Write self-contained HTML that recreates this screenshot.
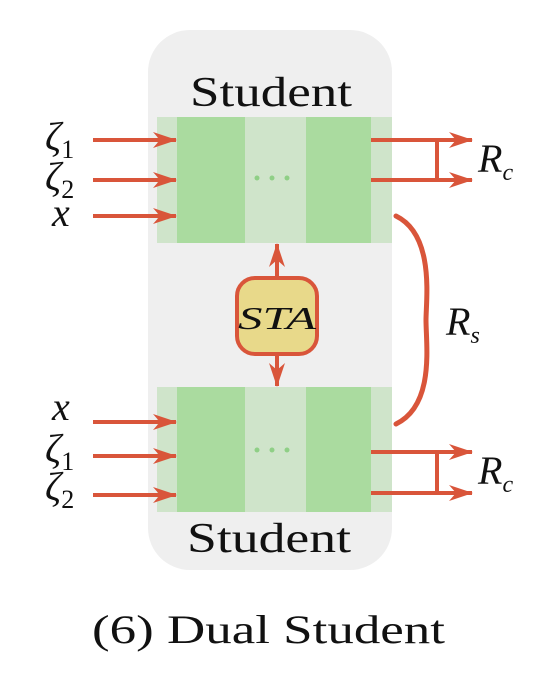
<!DOCTYPE html>
<html><head><meta charset="utf-8"><style>
html,body{margin:0;padding:0;background:#fff;}
svg{display:block;}
text{font-family:"Liberation Serif",serif;fill:#111;}
</style></head><body>
<svg width="556" height="674" viewBox="0 0 556 674">
<defs>
<marker id="ah2" viewBox="0 0 24 16" markerWidth="24" markerHeight="16" refX="23" refY="8" orient="auto" markerUnits="userSpaceOnUse">
<path d="M0,0 L24,8 L0,16 L7,8 Z" fill="#d9553a"/>
</marker>
</defs>
<rect x="148" y="30" width="244" height="540" rx="42" fill="#efefef"/>
<text x="190" y="106" font-size="42" textLength="162" lengthAdjust="spacingAndGlyphs">Student</text>
<text x="187" y="552" font-size="42" textLength="164" lengthAdjust="spacingAndGlyphs">Student</text>
<g>
<rect x="157" y="117" width="235" height="126" fill="#cfe4ca"/>
<rect x="177" y="117" width="68" height="126" fill="#aadb9f"/>
<rect x="306" y="117" width="65" height="126" fill="#aadb9f"/>
<circle cx="257" cy="178" r="2.5" fill="#8fcf86"/><circle cx="272" cy="178" r="2.5" fill="#8fcf86"/><circle cx="287" cy="178" r="2.5" fill="#8fcf86"/>
</g>
<g>
<rect x="157" y="387" width="235" height="125" fill="#cfe4ca"/>
<rect x="177" y="387" width="68" height="125" fill="#aadb9f"/>
<rect x="306" y="387" width="65" height="125" fill="#aadb9f"/>
<circle cx="257" cy="450" r="2.5" fill="#8fcf86"/><circle cx="272" cy="450" r="2.5" fill="#8fcf86"/><circle cx="287" cy="450" r="2.5" fill="#8fcf86"/>
</g>
<g stroke="#d9553a" stroke-width="4" fill="none">
<line x1="93" y1="140" x2="176" y2="140" marker-end="url(#ah2)"/>
<line x1="93" y1="180" x2="176" y2="180" marker-end="url(#ah2)"/>
<line x1="93" y1="216" x2="176" y2="216" marker-end="url(#ah2)"/>
<line x1="93" y1="422" x2="176" y2="422" marker-end="url(#ah2)"/>
<line x1="93" y1="456" x2="176" y2="456" marker-end="url(#ah2)"/>
<line x1="93" y1="495" x2="176" y2="495" marker-end="url(#ah2)"/>
</g>
<g stroke="#d9553a" stroke-width="4" fill="none">
<line x1="371" y1="140" x2="472" y2="140" marker-end="url(#ah2)"/>
<line x1="371" y1="180" x2="472" y2="180" marker-end="url(#ah2)"/>
<line x1="437" y1="140" x2="437" y2="180"/>
<line x1="371" y1="452" x2="472" y2="452" marker-end="url(#ah2)"/>
<line x1="371" y1="493" x2="472" y2="493" marker-end="url(#ah2)"/>
<line x1="437" y1="452" x2="437" y2="493"/>
</g>
<path d="M396,216 C435,235 426,300 426,320 C426,345 435,405 396,424" stroke="#d9553a" stroke-width="5" fill="none" stroke-linecap="round"/>
<g stroke="#d9553a" stroke-width="4">
<line x1="277" y1="290" x2="277" y2="244" marker-end="url(#ah2)"/>
<line x1="277" y1="330" x2="277" y2="386" marker-end="url(#ah2)"/>
</g>
<rect x="237" y="278" width="80" height="76" rx="18" fill="#e8d98a" stroke="#d9553a" stroke-width="4"/>
<text x="238" y="329" font-size="32" font-style="italic" textLength="78" lengthAdjust="spacingAndGlyphs">STA</text>
<g font-style="italic">
<text x="45" y="150" font-size="40">ζ<tspan font-style="normal" font-size="26" dy="8">1</tspan></text>
<text x="45" y="190" font-size="40">ζ<tspan font-style="normal" font-size="26" dy="8">2</tspan></text>
<text x="52" y="226" font-size="40">x</text>
<text x="52" y="420" font-size="40">x</text>
<text x="45" y="462" font-size="40">ζ<tspan font-style="normal" font-size="26" dy="8">1</tspan></text>
<text x="45" y="500" font-size="40">ζ<tspan font-style="normal" font-size="26" dy="8">2</tspan></text>
</g>
<g font-style="italic">
<text x="478" y="172" font-size="40">R<tspan font-size="24" dy="8">c</tspan></text>
<text x="446" y="335" font-size="40">R<tspan font-size="24" dy="8">s</tspan></text>
<text x="478" y="484" font-size="40">R<tspan font-size="24" dy="8">c</tspan></text>
</g>
<text x="92" y="643" font-size="40" textLength="353" lengthAdjust="spacingAndGlyphs">(6) Dual Student</text>
</svg>
</body></html>
